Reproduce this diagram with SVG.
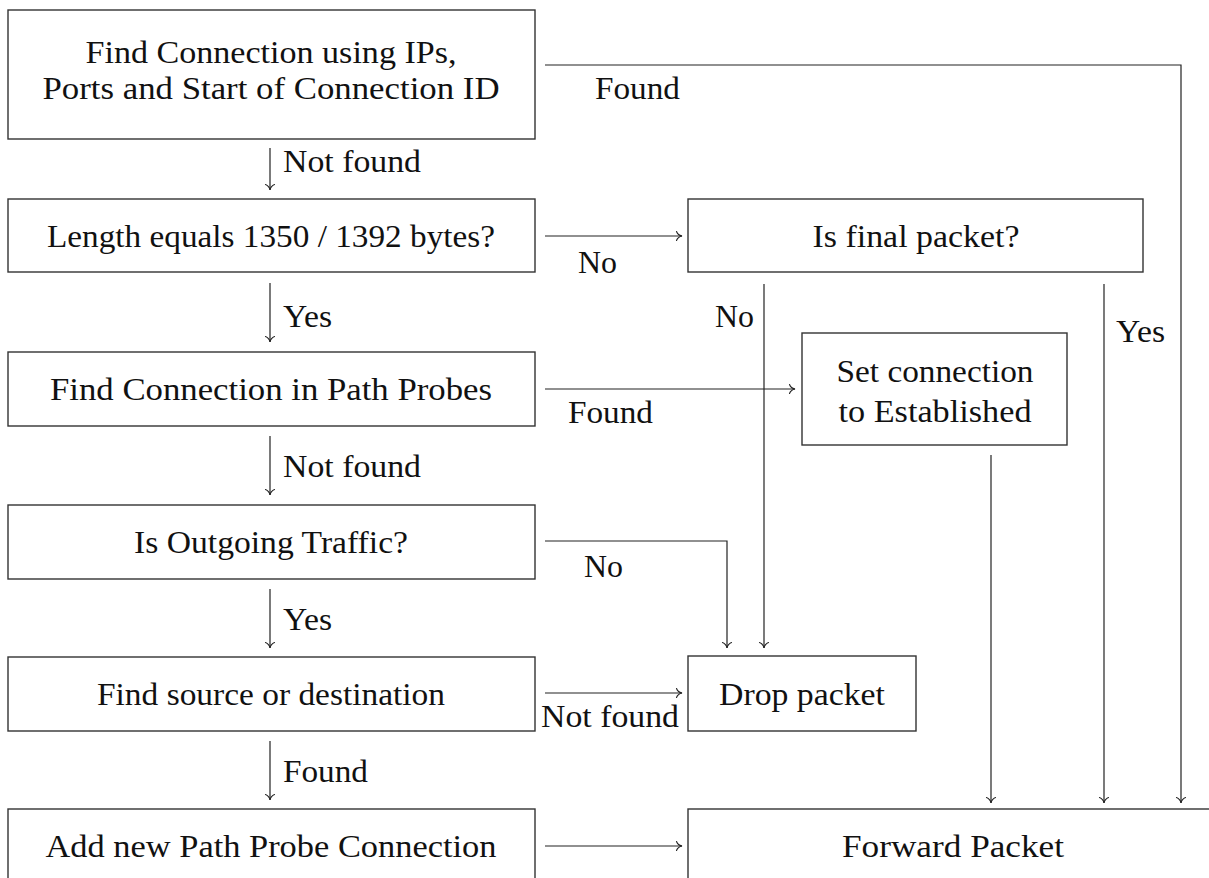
<svg xmlns="http://www.w3.org/2000/svg" width="1209" height="878" viewBox="0 0 1209 878">
  <style>
    .box { fill: #ffffff; stroke: #333333; stroke-width: 1.4; }
    .t { font-family: "Liberation Serif", "Times New Roman", serif; font-size: 32px; fill: #111111; }
    .c { text-anchor: middle; }
    .edge { fill: none; stroke: #222222; stroke-width: 1.2; }
  </style>
  <defs>
    <marker id="tip" viewBox="-7 -6 9 12" markerWidth="9" markerHeight="12" refX="0" refY="0" orient="auto" markerUnits="userSpaceOnUse">
      <path d="M-5.5,-4.5 C-4.5,-1.8 -1.8,-0.4 0,0 C-1.8,0.4 -4.5,1.8 -5.5,4.5" fill="none" stroke="#222222" stroke-width="1.1" stroke-linecap="round"/>
    </marker>
  </defs>
  <rect width="1209" height="878" fill="#ffffff"/>

  <!-- connectors with their branch labels -->
  <g id="connectors">
    <path class="edge" d="M545,65 H1181 V803" marker-end="url(#tip)"/>
    <text class="t" x="595" y="99" textLength="85" lengthAdjust="spacingAndGlyphs">Found</text>

    <path class="edge" d="M270,148 V190" marker-end="url(#tip)"/>
    <text class="t" x="283" y="172" textLength="138" lengthAdjust="spacingAndGlyphs">Not found</text>

    <path class="edge" d="M545,236 H682" marker-end="url(#tip)"/>
    <text class="t" x="578" y="273" textLength="39" lengthAdjust="spacingAndGlyphs">No</text>

    <path class="edge" d="M270,283 V342" marker-end="url(#tip)"/>
    <text class="t" x="283" y="327" textLength="49" lengthAdjust="spacingAndGlyphs">Yes</text>

    <path class="edge" d="M764,284 V648" marker-end="url(#tip)"/>
    <text class="t" x="715" y="327" textLength="39" lengthAdjust="spacingAndGlyphs">No</text>

    <path class="edge" d="M1104,284 V803" marker-end="url(#tip)"/>
    <text class="t" x="1116" y="342" textLength="49" lengthAdjust="spacingAndGlyphs">Yes</text>

    <path class="edge" d="M545,389 H795" marker-end="url(#tip)"/>
    <text class="t" x="568" y="423" textLength="85" lengthAdjust="spacingAndGlyphs">Found</text>

    <path class="edge" d="M991,455 V803" marker-end="url(#tip)"/>

    <path class="edge" d="M270,436 V495" marker-end="url(#tip)"/>
    <text class="t" x="283" y="477" textLength="138" lengthAdjust="spacingAndGlyphs">Not found</text>

    <path class="edge" d="M545,541 H727 V648" marker-end="url(#tip)"/>
    <text class="t" x="584" y="577" textLength="39" lengthAdjust="spacingAndGlyphs">No</text>

    <path class="edge" d="M270,589 V648" marker-end="url(#tip)"/>
    <text class="t" x="283" y="630" textLength="49" lengthAdjust="spacingAndGlyphs">Yes</text>

    <path class="edge" d="M545,693 H682" marker-end="url(#tip)"/>
    <text class="t" x="541" y="727" textLength="138" lengthAdjust="spacingAndGlyphs">Not found</text>

    <path class="edge" d="M270,741 V800" marker-end="url(#tip)"/>
    <text class="t" x="283" y="782" textLength="85" lengthAdjust="spacingAndGlyphs">Found</text>

    <path class="edge" d="M545,846 H682" marker-end="url(#tip)"/>
  </g>

  <!-- nodes -->
  <g id="find-connection">
    <rect class="box" x="8" y="10" width="527" height="129"/>
    <text class="t c" x="271" y="63" textLength="371" lengthAdjust="spacingAndGlyphs">Find Connection using IPs,</text>
    <text class="t c" x="271" y="99" textLength="457" lengthAdjust="spacingAndGlyphs">Ports and Start of Connection ID</text>
  </g>
  <g id="length-check">
    <rect class="box" x="8" y="199" width="527" height="73"/>
    <text class="t c" x="271" y="247" textLength="448" lengthAdjust="spacingAndGlyphs">Length equals 1350 / 1392 bytes?</text>
  </g>
  <g id="find-in-probes">
    <rect class="box" x="8" y="352" width="527" height="74"/>
    <text class="t c" x="271" y="400" textLength="442" lengthAdjust="spacingAndGlyphs">Find Connection in Path Probes</text>
  </g>
  <g id="is-outgoing">
    <rect class="box" x="8" y="505" width="527" height="74"/>
    <text class="t c" x="271" y="553" textLength="274" lengthAdjust="spacingAndGlyphs">Is Outgoing Traffic?</text>
  </g>
  <g id="find-source">
    <rect class="box" x="8" y="657" width="527" height="74"/>
    <text class="t c" x="271" y="705" textLength="348" lengthAdjust="spacingAndGlyphs">Find source or destination</text>
  </g>
  <g id="add-probe">
    <rect class="box" x="8" y="809" width="527" height="90"/>
    <text class="t c" x="271" y="857" textLength="451" lengthAdjust="spacingAndGlyphs">Add new Path Probe Connection</text>
  </g>
  <g id="is-final">
    <rect class="box" x="688" y="199" width="455" height="73"/>
    <text class="t c" x="916" y="247" textLength="207" lengthAdjust="spacingAndGlyphs">Is final packet?</text>
  </g>
  <g id="set-established">
    <rect class="box" x="802" y="333" width="265" height="112"/>
    <text class="t c" x="935" y="382" textLength="197" lengthAdjust="spacingAndGlyphs">Set connection</text>
    <text class="t c" x="935" y="422" textLength="193" lengthAdjust="spacingAndGlyphs">to Established</text>
  </g>
  <g id="drop-packet">
    <rect class="box" x="688" y="656" width="228" height="75"/>
    <text class="t c" x="802" y="705" textLength="166" lengthAdjust="spacingAndGlyphs">Drop packet</text>
  </g>
  <g id="forward-packet">
    <rect class="box" x="688" y="809" width="532" height="90"/>
    <text class="t c" x="953" y="857" textLength="222" lengthAdjust="spacingAndGlyphs">Forward Packet</text>
  </g>
</svg>
